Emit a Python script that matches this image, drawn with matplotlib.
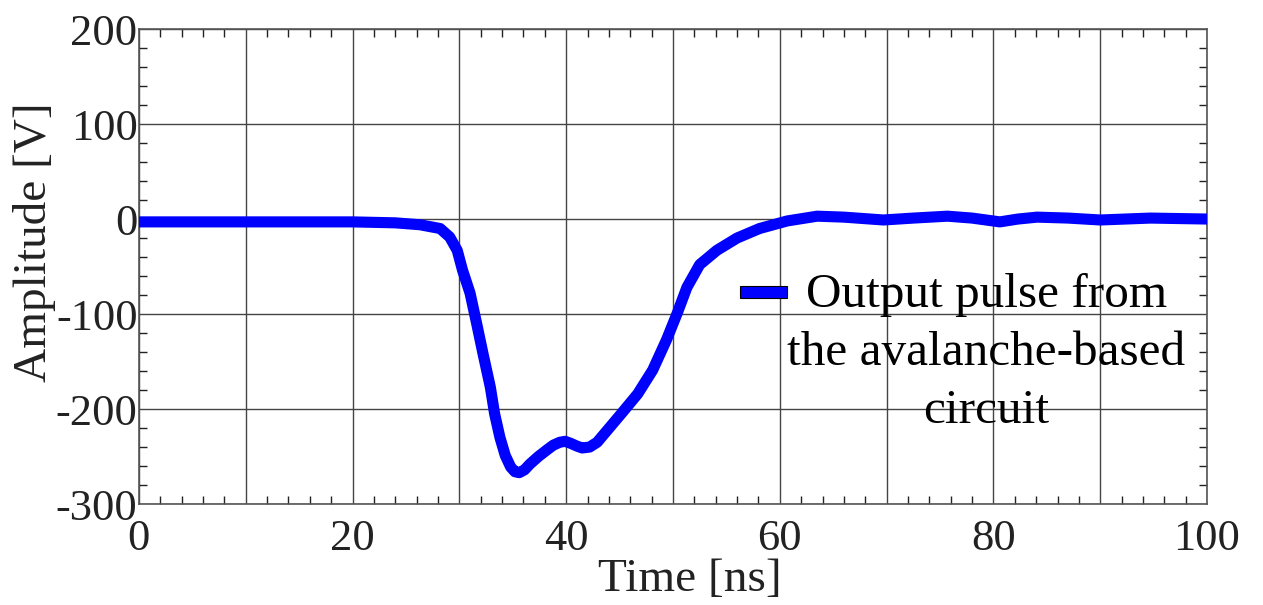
import matplotlib
matplotlib.use("Agg")
import matplotlib.pyplot as plt
from matplotlib.ticker import MultipleLocator, FuncFormatter
from matplotlib.patches import Patch, Rectangle
from matplotlib.legend_handler import HandlerPatch

time_ns = [0, 5, 10, 15, 20, 24, 26.3, 28.2, 29.1, 29.8, 30.3, 31.0, 31.6, 32.2,
           32.9, 33.3, 33.8, 34.3, 34.8, 35.2, 35.6, 36.1, 36.6, 37.4, 38.2, 38.8, 39.4,
           39.9, 40.4, 41.0, 41.5, 42.2, 42.9, 44.1, 45.3, 46.7, 48.1, 49.4, 50.4, 51.3,
           52.5, 54.1, 56.0, 58.1, 60.7, 63.5, 66, 69.7, 72.5, 75.7, 78, 80.6, 82.3,
           84.1, 87, 90, 94.7, 100]
amplitude_v = [-3, -3, -3, -3, -3, -4, -6, -10, -19, -33, -54, -78, -109, -141,
               -177, -205, -230, -249, -261, -266, -267, -264, -258, -250, -243, -238, -235,
               -234, -236, -239, -241, -240, -235, -219, -203, -184, -159, -127, -99, -72,
               -48, -33, -20, -10, -2, 3, 2, -1, 1, 3, 1, -3, 0,
               2, 1, -1, 1, 0]
series_label = "Output pulse from\nthe avalanche-based\ncircuit"

plt.rcParams['font.family'] = ['Liberation Serif', 'DejaVu Serif']
fig = plt.figure(figsize=(12.63, 6.05), dpi=100)
ax = fig.add_axes([0.110, 0.1669, 0.8457, 0.7851])

ax.plot(time_ns, amplitude_v, color='#0000ff', lw=8, solid_joinstyle='round',
        solid_capstyle='butt', zorder=3)

ax.set_xlim(0, 100)
ax.set_ylim(-300, 200)
ax.xaxis.set_major_locator(MultipleLocator(10))
ax.xaxis.set_minor_locator(MultipleLocator(2))
ax.yaxis.set_major_locator(MultipleLocator(100))
ax.yaxis.set_minor_locator(MultipleLocator(20))
ax.xaxis.set_major_formatter(FuncFormatter(lambda v, p: f"{int(round(v))}" if int(round(v)) % 20 == 0 else ""))
ax.yaxis.set_major_formatter(FuncFormatter(lambda v, p: f"{int(round(v))}"))

ax.grid(True, which='major', color='#444444', lw=1.0)
ax.tick_params(which='both', direction='in', top=True, right=True, labelsize=32,
               colors='#222222', width=1.0)
ax.tick_params(which='major', length=0)
ax.tick_params(which='minor', length=6)
ax.tick_params(axis='x', pad=11)
ax.tick_params(axis='y', pad=1)
for s in ax.spines.values():
    s.set_color('#555555')
    s.set_linewidth(1.2)

ax.set_xlabel("Time [ns]", fontsize=34, color='#222222')
ax.set_ylabel("Amplitude [V]", fontsize=34, color='#222222')
ax.xaxis.set_label_coords(0.516, -0.114)
ax.yaxis.set_label_coords(-0.078, 0.552)

FS = 35.5


def make_handle(legend, orig_handle, xdescent, ydescent, width, height, fontsize):
    return Rectangle((-xdescent, 1.456 * fontsize), width, 0.245 * fontsize)


proxy = Patch(facecolor='#0000ff', edgecolor='black', linewidth=0.8)
leg = ax.legend([proxy], [series_label], loc='upper left',
                bbox_to_anchor=(740 / 1263, 1 - 273 / 605), bbox_transform=fig.transFigure,
                frameon=False, fontsize=FS, handlelength=0.96, handleheight=0.245,
                handletextpad=0.0, borderpad=0, borderaxespad=0,
                handler_map={Patch: HandlerPatch(patch_func=make_handle)})
for t in leg.get_texts():
    t.set_multialignment('center')
    t.set_linespacing(1.415)
    t.set_color('black')

fig.savefig("out.png", dpi=100)
